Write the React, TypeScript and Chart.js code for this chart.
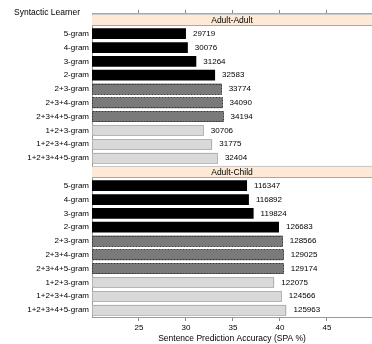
import React, { useEffect, useRef } from "react";
import { Chart, registerables } from "chart.js";

Chart.register(...registerables);

const learners = [
  "5-gram", "4-gram", "3-gram", "2-gram",
  "2+3-gram", "2+3+4-gram", "2+3+4+5-gram",
  "1+2+3-gram", "1+2+3+4-gram", "1+2+3+4+5-gram",
];
const learnerGroup = ["ngram", "ngram", "ngram", "ngram", "mix", "mix", "mix", "low", "low", "low"];
const panels = ["Adult-Adult", "Adult-Child"];
const adultAdultSPA = [30.0, 30.2, 31.1, 33.1, 33.8, 33.9, 34.0, 31.9, 32.8, 33.4];
const adultAdultN = [29719, 30076, 31264, 32583, 33774, 34090, 34194, 30706, 31775, 32404];
const adultChildSPA = [36.5, 36.7, 37.2, 39.9, 40.3, 40.4, 40.4, 39.4, 40.2, 40.7];
const adultChildN = [116347, 116892, 119824, 126683, 128566, 129025, 129174, 122075, 124566, 125963];
const xMin = 20;
const xMax = 49.8;
const xTicks = [25, 30, 35, 40, 45];
const headerText = "Syntactic Learner";
const xTitle = "Sentence Prediction Accuracy (SPA %)";

const FONT = "'Liberation Sans', Arial, Helvetica, sans-serif";

const groupStyle: Record<string, { fill: string; stroke: string; dash: number[] }> = {
  ngram: { fill: "#000000", stroke: "#000000", dash: [] },
  mix: { fill: "#7a7a7a", stroke: "#3a3a3a", dash: [2, 1] },
  low: { fill: "#d9d9d9", stroke: "#8a8a8a", dash: [1, 1] },
};

export default function App() {
  const ref = useRef<HTMLCanvasElement | null>(null);

  useEffect(() => {
    if (!ref.current) return;

    const labels: string[] = [];
    const values: (number | null)[] = [];
    const counts: (number | null)[] = [];
    const groups: (string | null)[] = [];
    const strips: ([number, number] | null)[] = [];
    const stripNames: (string | null)[] = [];
    const allSPA = [adultAdultSPA, adultChildSPA];
    const allN = [adultAdultN, adultChildN];
    panels.forEach((p, pi) => {
      labels.push("");
      values.push(null);
      counts.push(null);
      groups.push(null);
      strips.push([xMin, xMax]);
      stripNames.push(p);
      learners.forEach((l, i) => {
        labels.push(l);
        values.push(allSPA[pi][i]);
        counts.push(allN[pi][i]);
        groups.push(learnerGroup[i]);
        strips.push(null);
        stripNames.push(null);
      });
    });

    const overlay = {
      id: "overlay",
      afterDatasetsDraw(chart: any) {
        const ctx = chart.ctx;
        const area = chart.chartArea;
        ctx.save();
        const meta = chart.getDatasetMeta(1);
        meta.data.forEach((el: any, i: number) => {
          const g = groups[i];
          if (!g || values[i] == null || g === "ngram") return;
          const st = groupStyle[g];
          const { x, y, base, height } = el.getProps(["x", "y", "base", "height"], true);
          const left = Math.max(base, area.left);
          ctx.strokeStyle = st.stroke;
          ctx.lineWidth = 1;
          ctx.setLineDash(st.dash);
          ctx.strokeRect(Math.round(left) + 0.5, Math.round(y - height / 2) + 0.5, Math.round(x - left) - 1, Math.round(height) - 1);
        });
        ctx.setLineDash([]);
        ctx.fillStyle = "#000";
        ctx.font = `8px ${FONT}`;
        ctx.textAlign = "left";
        ctx.textBaseline = "middle";
        meta.data.forEach((el: any, i: number) => {
          if (counts[i] == null) return;
          ctx.fillText(String(counts[i]), el.x + 7, el.y);
        });
        const sm = chart.getDatasetMeta(0);
        ctx.font = `8.5px ${FONT}`;
        ctx.textAlign = "center";
        sm.data.forEach((el: any, i: number) => {
          if (!stripNames[i]) return;
          const cx = (area.left + area.right) / 2;
          ctx.fillText(stripNames[i], cx, el.y + 0.5);
        });
        ctx.textAlign = "left";
        ctx.fillText(headerText, 14, area.top);
        ctx.restore();
      },
    };

    const chart = new Chart(ref.current, {
      type: "bar",
      data: {
        labels,
        datasets: [
          {
            label: "strip",
            data: strips as any,
            backgroundColor: "#fde9d6",
            borderColor: "#a8a8a8",
            borderWidth: { top: 1, bottom: 1, left: 0, right: 0 } as any,
            borderSkipped: false,
            grouped: false,
            barPercentage: 0.88,
            categoryPercentage: 1,
          },
          {
            label: "SPA",
            data: values as any,
            backgroundColor: groups.map((g) => (g ? groupStyle[g].fill : "transparent")),
            borderWidth: 0,
            grouped: false,
            barPercentage: 0.78,
            categoryPercentage: 1,
          },
        ],
      },
      plugins: [overlay],
      options: {
        indexAxis: "y",
        animation: false,
        responsive: true,
        maintainAspectRatio: false,
        layout: { padding: 0 },
        plugins: { legend: { display: false }, tooltip: { enabled: false }, title: { display: false } },
        scales: {
          y: {
            type: "category",
            position: "left",
            grid: { display: true, drawOnChartArea: false, drawTicks: false },
            border: { display: true, color: "#9a9a9a", width: 1 },
            ticks: { color: "#000", font: { family: FONT, size: 8 }, padding: 3, autoSkip: false },
            afterFit(s: any) { s.width = 92; },
          },
          x: {
            type: "linear",
            position: "bottom",
            min: xMin,
            max: xMax,
            grid: { display: true, drawOnChartArea: false, drawTicks: true, tickLength: 4, color: "#888" },
            border: { display: true, color: "#9a9a9a", width: 1 },
            ticks: { color: "#000", font: { family: FONT, size: 8 }, padding: 2, maxRotation: 0 },
            afterBuildTicks(s: any) { s.ticks = xTicks.map((v) => ({ value: v })); },
            title: { display: true, text: xTitle, color: "#000", font: { family: FONT, size: 8.5 }, padding: 0 },
            afterFit(s: any) { s.height = 27; },
          },
          xTop: {
            type: "linear",
            position: "top",
            min: xMin,
            max: xMax,
            grid: { display: true, drawOnChartArea: false, drawTicks: true, tickLength: 3, color: "#888" },
            border: { display: true, color: "#a8a8a8", width: 1 },
            ticks: { display: false },
            afterBuildTicks(s: any) { s.ticks = xTicks.map((v) => ({ value: v })); },
            afterFit(s: any) { s.height = 13; },
          },
        },
      } as any,
    });

    return () => chart.destroy();
  }, []);

  return (
    <div style={{ position: "absolute", left: 0, top: 0, width: 372, height: 344 }}>
      <canvas ref={ref} />
    </div>
  );
}
